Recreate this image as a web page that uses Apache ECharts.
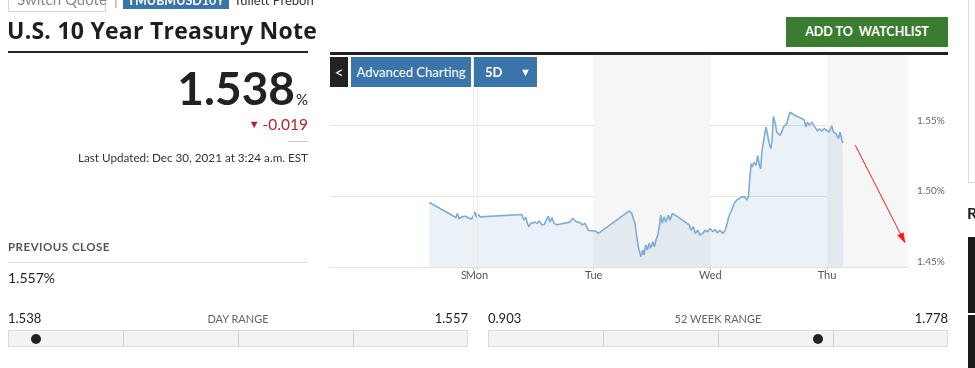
<!DOCTYPE html>
<html><head><meta charset="utf-8">
<script src="https://cdn.jsdelivr.net/npm/echarts@6/dist/echarts.min.js"></script>
<style>
html,body{margin:0;padding:0;background:#fff;}
body{width:975px;height:368px;overflow:hidden;position:relative;font-family:Lato,"Noto Sans",sans-serif;color:#222;}
.a{position:absolute;white-space:nowrap;}
#chart{position:absolute;left:0;top:0;width:975px;height:368px;}
.bar{position:absolute;top:330px;height:17px;box-sizing:border-box;border:1px solid #dcdcdc;background:#f3f3f3;}
.div{position:absolute;top:331px;width:1px;height:15px;background:#cfcfcf;}
.dot{position:absolute;width:10px;height:10px;border-radius:50%;background:#222;top:334px;}
.btn{position:absolute;top:57px;height:30px;line-height:30px;color:#fff;font-size:13px;text-align:center;}
</style></head><body>
<div id="chart"></div>

<!-- top strip -->
<div class="a" style="left:8px;top:-22px;width:98px;height:34px;box-sizing:border-box;border:1px solid #d6d6d6;"></div>
<div class="a" style="left:17px;top:-8.5px;font-size:15px;line-height:15px;color:#888;">Switch Quote</div>
<div class="a" style="left:114px;top:-8px;font-size:15px;line-height:15px;color:#999;">|</div>
<div class="a" style="left:123px;top:-20px;width:106px;height:29px;background:#3b74a8;"></div>
<div class="a" style="left:123px;width:106px;text-align:center;top:-6.5px;font-size:12.5px;line-height:13px;font-weight:700;color:#fff;">TMUBMUSD10Y</div>
<div class="a" style="left:234px;top:-7.5px;font-size:13px;line-height:14px;color:#333;">Tullett Prebon</div>

<!-- title -->
<div class="a" style="left:7px;top:19px;font-family:'Open Sans',Lato,sans-serif;font-size:23px;line-height:23px;font-weight:700;color:#1e1e1e;letter-spacing:0.25px;">U.S. 10 Year Treasury Note</div>
<div class="a" style="left:8px;top:51px;width:300px;height:2px;background:#222;"></div>

<!-- watchlist -->
<div class="a" style="left:786px;top:17px;width:162px;height:30px;line-height:30px;background:#3a7d30;color:#fff;font-size:12.5px;font-weight:700;text-align:center;">ADD TO&nbsp; WATCHLIST</div>

<!-- price block -->
<div class="a" style="right:680px;top:65px;font-size:46px;line-height:46px;font-weight:700;color:#222;">1.538</div>
<div class="a" style="right:667px;top:92px;font-size:15px;line-height:15px;color:#222;">%</div>
<div class="a" style="right:667px;top:117px;font-size:15.5px;line-height:15px;color:#ad2730;"><span style="font-size:11px;position:relative;top:-2px;margin-right:3px;">&#9660;</span>-0.019</div>
<div class="a" style="left:288px;top:141px;width:20px;height:1px;background:#ccc;"></div>
<div class="a" style="right:667px;top:152px;font-size:11.7px;line-height:11.5px;color:#333;">Last Updated: Dec 30, 2021 at 3:24 a.m. EST</div>

<div class="a" style="left:8px;top:241px;font-size:11.5px;line-height:11.5px;font-weight:700;color:#555;letter-spacing:0.5px;">PREVIOUS CLOSE</div>
<div class="a" style="left:8px;top:262px;width:300px;height:1px;background:#ddd;"></div>
<div class="a" style="left:8px;top:271px;font-size:14px;line-height:14px;color:#222;">1.557%</div>

<!-- day range -->
<div class="a" style="left:8px;top:312px;font-size:13px;line-height:13px;color:#222;">1.538</div>
<div class="a" style="left:8px;width:460px;text-align:center;top:313px;font-size:11px;line-height:11px;color:#666;">DAY RANGE</div>
<div class="a" style="right:507px;top:312px;font-size:13px;line-height:13px;color:#222;">1.557</div>
<div class="bar" style="left:8px;width:460px;"></div>
<div class="div" style="left:123px;"></div><div class="div" style="left:238px;"></div><div class="div" style="left:353px;"></div>
<div class="dot" style="left:31px;"></div>

<!-- 52 week range -->
<div class="a" style="left:488px;top:312px;font-size:13px;line-height:13px;color:#222;">0.903</div>
<div class="a" style="left:488px;width:460px;text-align:center;top:313px;font-size:11px;line-height:11px;color:#666;">52 WEEK RANGE</div>
<div class="a" style="right:27px;top:312px;font-size:13px;line-height:13px;color:#222;">1.778</div>
<div class="bar" style="left:488px;width:460px;"></div>
<div class="div" style="left:603px;"></div><div class="div" style="left:718px;"></div><div class="div" style="left:833px;"></div>
<div class="dot" style="left:813px;"></div>

<!-- chart chrome -->
<div class="a" style="left:330px;top:52px;width:618px;height:3px;background:#222;"></div>
<div class="btn" style="left:330px;width:18px;background:#222;font-size:15px;">&lt;</div>
<div class="btn" style="left:351px;width:120px;background:#3b74a8;">Advanced Charting</div>
<div class="btn" style="left:474px;width:63px;background:#3b74a8;text-align:left;"><span style="position:absolute;left:11px;font-weight:700;">5D</span><span style="position:absolute;left:46px;font-size:11px;">&#9660;</span></div>

<!-- right edge -->
<div class="a" style="left:968px;top:-1px;width:10px;height:184px;box-sizing:border-box;border-left:1px solid #ddd;border-bottom:1px solid #ddd;"></div>
<div class="a" style="left:967px;top:205px;font-size:16px;line-height:16px;font-weight:700;color:#222;">R</div>
<div class="a" style="left:968px;top:237px;width:7px;height:76px;background:#1a1a1a;"></div>
<div class="a" style="left:968px;top:315px;width:7px;height:53px;background:#1a1a1a;"></div>

<script>
// time in hours from Monday 00:00, yield in percent
const hours = [-9.81,-4.32,-4.05,-3.64,-3.15,-2.82,-2.26,-1.79,-1.44,-1.09,
-0.41,-0.06,0.27,0.62,0.97,9.20,9.40,9.67,10.08,10.35,
10.64,11.05,11.46,11.93,12.40,12.82,13.31,13.78,14.34,14.67,
15.02,15.43,15.84,16.40,16.81,19.13,19.69,20.16,20.63,21.19,
21.74,22.22,22.90,23.39,23.93,24.48,24.95,31.33,31.83,32.15,
32.50,32.85,33.18,33.53,33.74,34.09,34.35,34.70,35.03,35.38,
35.73,36.15,36.47,36.82,37.17,37.50,37.79,38.12,38.47,38.88,
39.35,39.70,40.18,40.73,41.76,42.79,43.67,44.02,44.50,44.91,
45.40,45.88,46.43,46.90,47.38,47.93,48.49,48.96,49.43,49.99,
50.55,51.02,51.37,51.70,52.05,52.40,52.87,53.42,53.96,54.45,
54.78,55.13,55.48,55.81,56.16,56.37,56.63,56.98,57.40,57.75,
58.07,58.36,58.63,58.90,59.25,59.45,59.72,60.13,60.42,60.69,
60.95,61.16,61.37,61.65,61.98,62.33,62.68,63.01,63.36,63.71,
64.04,64.39,64.74,65.42,66.45,67.27,67.68,67.95,68.36,68.85,
69.18,69.53,70.01,70.42,70.91,71.39,71.94,72.48,72.97,73.30,
73.85,74.33,74.68,74.95,75.15,75.35];
const yields = [1.4956,1.4850,1.4878,1.4840,1.4854,1.4840,1.4859,1.4845,1.4859,1.4840,
1.4887,1.4850,1.4873,1.4854,1.4843,1.4871,1.4878,1.4831,1.4850,1.4808,
1.4784,1.4808,1.4794,1.4817,1.4808,1.4826,1.4798,1.4798,1.4836,1.4859,
1.4817,1.4850,1.4808,1.4798,1.4803,1.4817,1.4845,1.4826,1.4817,1.4812,
1.4798,1.4808,1.4760,1.4756,1.4756,1.4751,1.4737,1.4896,1.4878,1.4864,
1.4808,1.4713,1.4643,1.4596,1.4573,1.4620,1.4584,1.4655,1.4620,1.4667,
1.4632,1.4678,1.4643,1.4690,1.4725,1.4784,1.4866,1.4808,1.4854,1.4819,
1.4866,1.4831,1.4878,1.4866,1.4843,1.4819,1.4796,1.4760,1.4784,1.4737,
1.4760,1.4725,1.4737,1.4760,1.4749,1.4772,1.4749,1.4765,1.4741,1.4760,
1.4737,1.4760,1.4796,1.4843,1.4880,1.4901,1.4948,1.4972,1.4984,1.4995,
1.4984,1.4995,1.4972,1.4995,1.4984,1.5230,1.5206,1.5241,1.5218,1.5288,
1.5218,1.5195,1.5324,1.5336,1.5453,1.5488,1.5441,1.5371,1.5336,1.5394,
1.5563,1.5570,1.5512,1.5453,1.5441,1.5429,1.5453,1.5488,1.5500,1.5512,
1.5558,1.5593,1.5582,1.5570,1.5554,1.5540,1.5488,1.5523,1.5500,1.5523,
1.5512,1.5488,1.5460,1.5476,1.5460,1.5476,1.5464,1.5453,1.5500,1.5453,
1.5441,1.5406,1.5453,1.5464,1.5382,1.5380];

const sessionStart = [-0.82];          // Sunday session tick
const sessionLabel = ['Sun'];
const dayTicks = [0, 24, 48, 72];
const dayLabels = ['Mon', 'Tue', 'Wed', 'Thu'];
const xRange = [-30.24, 88.65];
const yMin = 1.45, yMax = 1.60, yStep = 0.05;
const shadedDays = [[24, 48], [72, 88.65]];
const arrowFrom = [77.8, 1.536];
const arrowTo = [87.6, 1.470];

const labelFont = {fontSize: 11, color: '#555', fontFamily: 'Lato'};
const chart = echarts.init(document.getElementById('chart'), null, {renderer: 'canvas'});
chart.setOption({
  animation: false,
  grid: {left: 330, right: 67, top: 54.6, bottom: 101, containLabel: false},
  xAxis: [{
    type: 'value', min: xRange[0], max: xRange[1], z: 2,
    axisLine: {show: true, lineStyle: {color: '#e2e2e2'}},
    axisTick: {show: true, customValues: dayTicks, length: 4, lineStyle: {color: '#cfcfcf'}},
    axisLabel: Object.assign({
      customValues: dayTicks, margin: 3, hideOverlap: false,
      formatter: v => { const i = dayTicks.indexOf(v); return i >= 0 ? '{m|' + dayLabels[i] + '}' : ''; },
      rich: {m: Object.assign({backgroundColor: '#fff'}, labelFont)}
    }, labelFont),
    splitLine: {show: false}
  }, {
    type: 'value', min: xRange[0], max: xRange[1], position: 'bottom', z: 1,
    axisLine: {show: false},
    axisTick: {show: true, customValues: sessionStart, length: 4, lineStyle: {color: '#cfcfcf'}},
    axisLabel: Object.assign({
      customValues: sessionStart, margin: 3, hideOverlap: false,
      formatter: v => { const i = sessionStart.indexOf(v); return i >= 0 ? '{s|' + sessionLabel[i] + '}' : ''; },
      rich: {s: Object.assign({padding: [0, 6, 0, 0]}, labelFont)}
    }, labelFont),
    splitLine: {show: false}
  }],
  yAxis: {
    type: 'value', position: 'right', min: yMin, max: yMax, interval: yStep,
    axisLine: {show: false}, axisTick: {show: false},
    axisLabel: {formatter: v => v.toFixed(2) + '%', color: '#666', fontSize: 10, margin: 9,
      verticalAlign: 'bottom', showMaxLabel: false, fontFamily: 'Lato'},
    splitLine: {lineStyle: {color: '#e3e3e3'}}
  },
  series: [{
    type: 'line', xAxisIndex: 0,
    data: hours.map((h, i) => [h, yields[i]]),
    showSymbol: false, symbol: 'none',
    lineStyle: {color: '#80acd9', width: 1.6},
    areaStyle: {color: 'rgba(110,160,200,0.2)'},
    markArea: {silent: true, itemStyle: {color: '#f6f6f6'},
      data: shadedDays.map(d => [{xAxis: d[0]}, {xAxis: d[1]}])},
    markLine: {
      silent: true, symbol: ['none', 'none'], label: {show: false},
      data: sessionStart.concat([dayTicks[0]]).map(v => ({xAxis: v, lineStyle: {color: '#ececec', width: 1, type: 'solid'}}))
        .concat([[{coord: arrowFrom, symbol: 'none', lineStyle: {color: '#ff1a1a', width: 1, type: 'solid'}},
                  {coord: arrowTo, symbol: 'triangle', symbolSize: [7, 11]}]])
    }
  }]
});
</script>
</body></html>
